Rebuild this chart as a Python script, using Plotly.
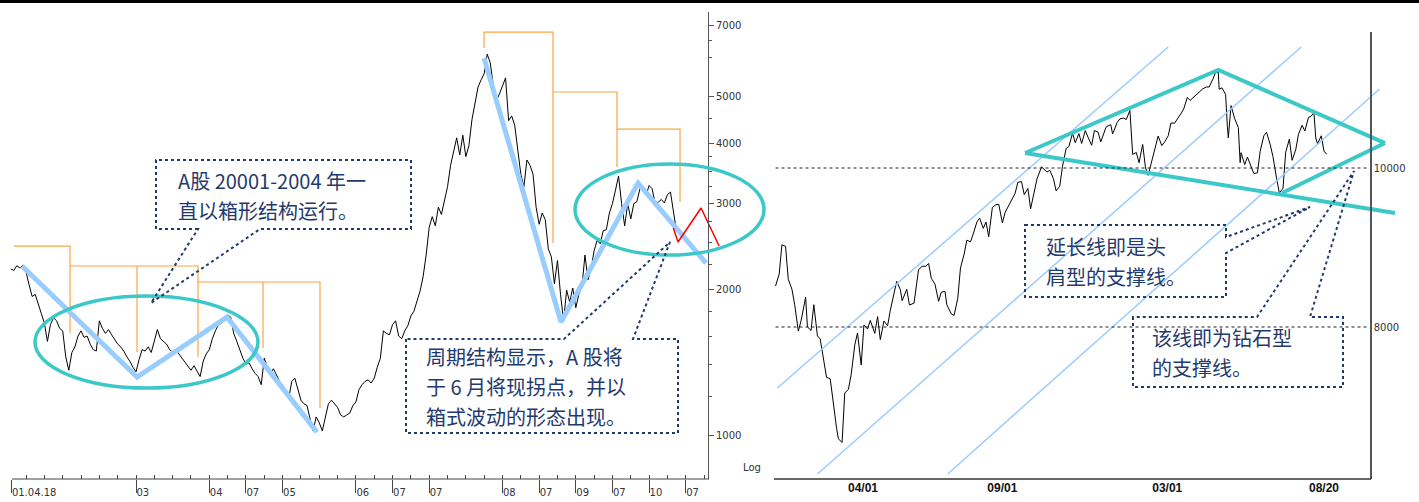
import numpy as np
import pandas as pd
import plotly.graph_objects as go

W, H = 1419, 502

# ---------------- LEFT CHART: Shanghai Composite, semi-monthly readings (log scale) ----------------
sse_2001 = [2200, 2185, 2235, 2210, 2242, 2170, 2040, 1930, 1950, 1870, 1780, 1700, 1560, 1690, 1745, 1720, 1660]
sse_2002 = [1640, 1450, 1360, 1480, 1520, 1600, 1640, 1590, 1600, 1540, 1500, 1490,
            1720, 1660, 1620, 1650, 1610, 1570, 1540, 1520, 1490, 1450, 1420, 1380]
sse_2003 = [1350, 1430, 1500, 1490, 1520, 1480, 1560, 1650, 1580, 1560, 1540, 1500,
            1480, 1500, 1470, 1440, 1410, 1380, 1360, 1390, 1350, 1320, 1420, 1470]
sse_2004 = [1500, 1580, 1640, 1690, 1700, 1740, 1770, 1750, 1620, 1560, 1500, 1440,
            1400, 1410, 1370, 1340, 1320, 1270, 1440, 1380, 1340, 1370, 1330, 1290]
sse_2005 = [1270, 1220, 1190, 1290, 1310, 1240, 1180, 1160, 1150, 1080, 1020, 1090,
            1060, 1020, 1090, 1160, 1180, 1160, 1140, 1100, 1090, 1100, 1110, 1150]
sse_2006 = [1170, 1240, 1270, 1290, 1300, 1280, 1310, 1380, 1440, 1640, 1620, 1610,
            1690, 1720, 1600, 1580, 1640, 1680, 1760, 1800, 1880, 1980, 2120, 2350]
sse_2007 = [2680, 2820, 2700, 2950, 2850, 3050, 3250, 3600, 3840, 4100, 3780, 4150,
            3750, 3950, 4470, 4880, 5220, 5400, 5560, 6100, 5850, 5250, 4900, 5050]
sse_2008 = [5260, 5450, 4450, 4550, 4350, 3900, 3450, 3250, 3690, 3600, 3450, 2950,
            2720, 2870, 2780, 2420, 2330, 2050, 2290, 1950, 1720, 1990, 1880, 2010]
sse_2009 = [1830, 1950, 2020, 2350, 2090, 2200, 2400, 2520, 2480, 2640, 2650, 2870,
            3000, 3200, 3420, 3000, 2700, 3000, 2790, 3000, 3030, 3220, 3260, 3120]
sse_2010 = [3270, 3220, 2990, 3020, 3060, 3010, 3130, 3170, 2880, 2620]

left_tick_vals = [2001.30, 2003, 2004, 2004.5, 2005, 2006, 2006.5, 2007, 2008, 2008.5, 2009, 2009.5, 2010, 2010.5]
left_tick_text = ["01.04.18", "03", "04", "07", "05", "06", "07", "07", "08", "07", "09", "07", "10", "07"]
left_y_ticks = [1000, 2000, 3000, 4000, 5000, 7000]
left_y_minor = [1200, 1400, 1600, 1800, 2250, 2500, 2750, 3250, 3500, 3750, 4500, 6000, 6500]

# analysis overlays (year, index level)
zig1_x = [2001.445, 2003.014, 2004.241, 2005.469]
zig1_y = [2231, 1317, 1751, 1014]
zig2_x = [2007.748, 2008.798, 2009.849, 2010.777]
zig2_y = [5987, 1710, 3308, 2262]
proj_x = [2010.33, 2010.395, 2010.709, 2010.955]
proj_y = [2671, 2500, 2938, 2453]
cycle_x = [2001.336, 2002.100, 2002.100, None,
           2002.100, 2003.846, 2003.846, None, 2003.014, 2003.014, None,
           2003.846, 2005.510, 2005.510, None, 2004.733, 2004.733, None,
           2007.748, 2007.748, 2008.689, 2008.689, None,
           2008.689, 2009.562, 2009.562, None,
           2009.562, 2010.422, 2010.422]
cycle_y = [2453, 2453, 1623, None,
           2231, 2231, 1448, None, 2231, 1483, None,
           2068, 2068, 1137, None, 2068, 1512, None,
           6281, 6775, 6775, 2488, None,
           5096, 5096, 3570, None,
           4274, 4274, 3022]
ellipse1 = [2001.622, 2004.664, 1250, 1934]
ellipse2 = [2008.989, 2011.568, 2350, 3622]

# ---------------- RIGHT CHART: Dow Jones readings ----------------
dow_a = [("2008-12-26", 8515), ("2008-12-30", 8668), ("2009-01-02", 9034), ("2009-01-06", 9015),
         ("2009-01-09", 8599), ("2009-01-13", 8474), ("2009-01-16", 8281), ("2009-01-20", 7949),
         ("2009-01-23", 8077), ("2009-01-28", 8375), ("2009-01-30", 8001), ("2009-02-03", 7956),
         ("2009-02-06", 8280), ("2009-02-10", 7888), ("2009-02-13", 7850), ("2009-02-17", 7553),
         ("2009-02-20", 7366), ("2009-02-24", 7350), ("2009-02-27", 7063), ("2009-03-03", 6726),
         ("2009-03-05", 6594), ("2009-03-09", 6547), ("2009-03-12", 7170), ("2009-03-16", 7216),
         ("2009-03-19", 7400), ("2009-03-23", 7776), ("2009-03-26", 7925), ("2009-03-30", 7522)]
dow_b = [("2009-04-02", 8025), ("2009-04-06", 7975), ("2009-04-09", 8083), ("2009-04-14", 7920),
         ("2009-04-17", 8131), ("2009-04-20", 7841), ("2009-04-24", 8076), ("2009-04-28", 8016),
         ("2009-05-01", 8212), ("2009-05-05", 8410), ("2009-05-08", 8575), ("2009-05-12", 8469),
         ("2009-05-14", 8331), ("2009-05-19", 8474), ("2009-05-22", 8277), ("2009-05-27", 8300),
         ("2009-06-01", 8721), ("2009-06-05", 8764), ("2009-06-09", 8764), ("2009-06-12", 8799),
         ("2009-06-15", 8612), ("2009-06-19", 8539), ("2009-06-23", 8323), ("2009-06-26", 8438),
         ("2009-06-30", 8447), ("2009-07-02", 8280), ("2009-07-07", 8163), ("2009-07-10", 8146),
         ("2009-07-14", 8359), ("2009-07-17", 8743), ("2009-07-21", 8916), ("2009-07-24", 9093),
         ("2009-07-28", 9070), ("2009-07-31", 9171)]
dow_c = [("2009-08-04", 9320), ("2009-08-07", 9370), ("2009-08-11", 9241), ("2009-08-14", 9321),
         ("2009-08-17", 9135), ("2009-08-21", 9505), ("2009-08-25", 9539), ("2009-08-28", 9544),
         ("2009-09-01", 9310), ("2009-09-04", 9441), ("2009-09-09", 9547), ("2009-09-11", 9605),
         ("2009-09-15", 9683), ("2009-09-18", 9820), ("2009-09-22", 9829), ("2009-09-25", 9665),
         ("2009-09-29", 9742), ("2009-10-02", 9487), ("2009-10-06", 9731), ("2009-10-09", 9864),
         ("2009-10-14", 10015), ("2009-10-16", 9995), ("2009-10-20", 9949), ("2009-10-23", 9972),
         ("2009-10-27", 9868), ("2009-10-30", 9712), ("2009-11-03", 9772), ("2009-11-06", 10023),
         ("2009-11-10", 10247), ("2009-11-13", 10270), ("2009-11-17", 10437), ("2009-11-20", 10318),
         ("2009-11-24", 10433), ("2009-11-27", 10309), ("2009-12-01", 10471), ("2009-12-04", 10388),
         ("2009-12-08", 10286), ("2009-12-11", 10471), ("2009-12-15", 10452), ("2009-12-18", 10329),
         ("2009-12-22", 10464), ("2009-12-24", 10520), ("2009-12-29", 10545), ("2009-12-31", 10428)]
dow_d = [("2010-01-05", 10573), ("2010-01-08", 10618), ("2010-01-12", 10628), ("2010-01-15", 10610),
         ("2010-01-19", 10725), ("2010-01-22", 10172), ("2010-01-26", 10195), ("2010-01-29", 10067),
         ("2010-02-02", 10296), ("2010-02-05", 10012), ("2010-02-08", 9908), ("2010-02-12", 10099),
         ("2010-02-16", 10268), ("2010-02-19", 10402), ("2010-02-23", 10282), ("2010-02-26", 10325),
         ("2010-03-02", 10405), ("2010-03-05", 10566), ("2010-03-09", 10564), ("2010-03-12", 10624),
         ("2010-03-16", 10685), ("2010-03-19", 10742), ("2010-03-23", 10888), ("2010-03-26", 10850),
         ("2010-03-30", 10895), ("2010-04-02", 10927), ("2010-04-06", 10970), ("2010-04-09", 10997),
         ("2010-04-13", 11019), ("2010-04-16", 11019), ("2010-04-20", 11117), ("2010-04-23", 11204),
         ("2010-04-26", 11205), ("2010-04-27", 10991), ("2010-04-30", 11009)]
dow_e = [("2010-05-04", 10926), ("2010-05-06", 10520), ("2010-05-07", 10380), ("2010-05-10", 10785),
         ("2010-05-14", 10620), ("2010-05-18", 10510), ("2010-05-20", 10068), ("2010-05-21", 10193),
         ("2010-05-25", 10043), ("2010-05-28", 10137), ("2010-06-01", 10025), ("2010-06-04", 9931),
         ("2010-06-08", 9940), ("2010-06-11", 10211), ("2010-06-15", 10405), ("2010-06-18", 10450),
         ("2010-06-22", 10294), ("2010-06-25", 10144), ("2010-06-29", 9870), ("2010-07-02", 9686),
         ("2010-07-06", 9744), ("2010-07-09", 10198), ("2010-07-13", 10364), ("2010-07-16", 10097),
         ("2010-07-20", 10230), ("2010-07-23", 10424), ("2010-07-27", 10537), ("2010-07-30", 10466),
         ("2010-08-03", 10636), ("2010-08-06", 10653), ("2010-08-09", 10698), ("2010-08-11", 10378),
         ("2010-08-13", 10303), ("2010-08-17", 10406), ("2010-08-20", 10213), ("2010-08-23", 10174)]

right_tick_vals = ["2009-04-01", "2009-09-01", "2010-03-01", "2010-08-20"]
right_tick_text = ["04/01", "09/01", "03/01", "08/20"]
right_levels = [10000, 8000]
level_span = ["2008-12-26", "2010-10-09"]

channel_a = (["2008-12-28", "2010-03-02"], [7233, 11522])
channel_b = (["2009-02-10", "2010-07-26"], [6151, 11522])
channel_c = (["2009-07-03", "2010-10-20"], [6151, 10994])
diamond_upper = (["2009-09-26", "2010-04-26", "2010-10-26"], [10189, 11233, 10314])
diamond_lower = (["2009-09-26", "2010-11-06"], [10189, 9434])
diamond_inner = (["2010-07-05", "2010-10-26"], [9686, 10314])

note1_lines = ["A股 20001-2004 年一", "直以箱形结构运行。"]
note2_lines = ["周期结构显示，A 股将", "于 6 月将现拐点，并以", "箱式波动的形态出现。"]
note3_lines = ["延长线即是头", "肩型的支撑线。"]
note4_lines = ["该线即为钻石型", "的支撑线。"]

# ---------------- styles ----------------
BLACK = "#000000"
LBLUE = "#99CCFF"
TEAL = "#3CC8C8"
ORANGE = "#F9A545"
NAVY = "#1f3a6e"
CJK = "Noto Sans CJK SC"


def px(x):
    return x / W


def py(y):
    return 1 - y / H


sse = sse_2001 + sse_2002 + sse_2003 + sse_2004 + sse_2005 + sse_2006 + sse_2007 + sse_2008 + sse_2009 + sse_2010
sse_x = [2001 + 3.5 / 12 + i / 24 for i in range(len(sse))]
dow = dow_a + dow_b + dow_c + dow_d + dow_e
dow_x = [d for d, _ in dow]
dow_y = [v for _, v in dow]

fig = go.Figure()

# left traces
fig.add_trace(go.Scatter(x=cycle_x, y=cycle_y, mode="lines", line=dict(color=ORANGE, width=1.2),
                         connectgaps=False, xaxis="x", yaxis="y", hoverinfo="skip"))
fig.add_trace(go.Scatter(x=sse_x, y=sse, mode="lines", line=dict(color=BLACK, width=1),
                         xaxis="x", yaxis="y"))
fig.add_trace(go.Scatter(x=zig1_x, y=zig1_y, mode="lines", line=dict(color=LBLUE, width=5),
                         xaxis="x", yaxis="y"))
fig.add_trace(go.Scatter(x=zig2_x, y=zig2_y, mode="lines", line=dict(color=LBLUE, width=5),
                         xaxis="x", yaxis="y"))
fig.add_trace(go.Scatter(x=proj_x, y=proj_y, mode="lines", line=dict(color="#FF0000", width=1.5),
                         xaxis="x", yaxis="y"))

# right traces
fig.add_trace(go.Scatter(x=dow_x, y=dow_y, mode="lines", line=dict(color=BLACK, width=1),
                         xaxis="x2", yaxis="y2"))
for cx, cy in (channel_a, channel_b, channel_c):
    fig.add_trace(go.Scatter(x=cx, y=cy, mode="lines", line=dict(color=LBLUE, width=1.5),
                             xaxis="x2", yaxis="y2"))
for cx, cy in (diamond_upper, diamond_lower, diamond_inner):
    fig.add_trace(go.Scatter(x=cx, y=cy, mode="lines", line=dict(color=TEAL, width=4),
                             xaxis="x2", yaxis="y2"))

shapes = []
for e in (ellipse1, ellipse2):
    shapes.append(dict(type="circle", xref="x", yref="y", x0=e[0], x1=e[1], y0=e[2], y1=e[3],
                       line=dict(color=TEAL, width=3.5)))
for lv in right_levels:
    shapes.append(dict(type="line", xref="x2", yref="y2", x0=level_span[0], x1=level_span[1], y0=lv, y1=lv,
                       line=dict(color="#222222", width=1, dash="3px,3px")))
shapes.append(dict(type="line", xref="paper", yref="paper", x0=px(12), x1=px(709), y0=py(479), y1=py(479),
                   line=dict(color="#444444", width=1)))
shapes.append(dict(type="line", xref="paper", yref="paper", x0=px(774), x1=px(1371), y0=py(479), y1=py(479),
                   line=dict(color="#333333", width=1.5)))
shapes.append(dict(type="rect", xref="paper", yref="paper", x0=0, x1=1, y0=py(3), y1=1,
                   fillcolor="#000000", line=dict(width=0)))

callouts = [
    [(198, 229), (156, 229), (156, 160), (411, 160), (411, 229), (260, 229), (151, 303)],
    [(406, 339), (406, 433), (678, 433), (678, 339), (633, 339), (670, 242), (564, 339)],
    [(1025, 225), (1226, 225), (1226, 237), (1310, 207), (1226, 253), (1226, 297), (1025, 297)],
    [(1133, 317), (1133, 387), (1343, 387), (1343, 317), (1310, 317), (1354, 171), (1257, 317)],
]
for pts in callouts:
    path = "M " + " L ".join(f"{px(x):.5f},{py(y):.5f}" for x, y in pts) + " Z"
    shapes.append(dict(type="path", xref="paper", yref="paper", path=path,
                       line=dict(color=NAVY, width=2, dash="dot")))

# (lines, left x, first-line centre y) in pixels; line pitch 30 px
notes = [(note1_lines, 176, 180), (note2_lines, 424, 356), (note3_lines, 1044, 246), (note4_lines, 1150, 337)]
annotations = []
for lines, x, y in notes:
    for k, t in enumerate(lines):
        annotations.append(dict(text=t, x=px(x), y=py(y + 30 * k), xref="paper", yref="paper", xanchor="left",
                                yanchor="middle", align="left", showarrow=False,
                                font=dict(family=CJK, size=20, color=NAVY)))
annotations.append(dict(text="Log", x=px(741), y=py(467), xref="paper", yref="paper", xanchor="left",
                        yanchor="middle", showarrow=False,
                        font=dict(family="DejaVu Sans", size=10, color="#333333")))

t0 = pd.Timestamp("2009-04-01")
ppd = 0.911  # pixels per day on the right time axis
x2_range = [t0 - pd.Timedelta(days=(863 - 772) / ppd), t0 + pd.Timedelta(days=(1419 - 863) / ppd)]

tickfont = dict(family="DejaVu Sans", size=10, color="#333333")

fig.update_layout(
    width=W, height=H, margin=dict(l=0, r=0, t=0, b=0),
    paper_bgcolor="white", plot_bgcolor="rgba(0,0,0,0)", showlegend=False,
    xaxis=dict(domain=[0, px(770)], range=[2001.1446, 2011.6494], anchor="y",
               tickmode="array", tickvals=left_tick_vals, ticktext=left_tick_text,
               ticks="outside", ticklen=13, tickcolor="#444444", tickwidth=1,
               ticklabelposition="outside right", ticklabelstandoff=4,
               minor=dict(ticks="inside", ticklen=4, tickcolor="#444444", tickmode="array",
                          tickvals=[2001.5 + 0.25 * k for k in range(38)]),
               showline=False, showgrid=False, zeroline=False, tickfont=tickfont),
    yaxis=dict(domain=[py(479), py(12)], type="log", range=[np.log10(811.7), np.log10(7451)],
               anchor="free", position=px(708), side="right",
               tickmode="array", tickvals=left_y_ticks, ticktext=[str(v) for v in left_y_ticks],
               ticks="outside", ticklen=5, tickcolor="#555555",
               minor=dict(ticks="outside", ticklen=3, tickcolor="#555555", tickmode="array", tickvals=left_y_minor),
               showline=True, linecolor="#555555", linewidth=1, showgrid=False, zeroline=False,
               tickfont=tickfont),
    xaxis2=dict(domain=[px(772), 1], type="date", range=x2_range, anchor="y2",
                tickmode="array", tickvals=right_tick_vals, ticktext=right_tick_text,
                ticks="", showline=False, showgrid=False, zeroline=False,
                tickfont=dict(family="Liberation Sans", size=12, color="#111111", weight="bold")),
    yaxis2=dict(domain=[py(479), py(32)], range=[6087.9, 11711], anchor="free", position=px(1371),
                side="right", tickmode="array", tickvals=right_levels, ticktext=[str(v) for v in right_levels],
                ticks="", showline=True, linecolor="#555555", linewidth=1.5, showgrid=False, zeroline=False,
                tickfont=tickfont),
    shapes=shapes, annotations=annotations,
)

fig.write_html("out.html", config={"displayModeBar": False},
               post_script="document.body.style.margin='0px';")
